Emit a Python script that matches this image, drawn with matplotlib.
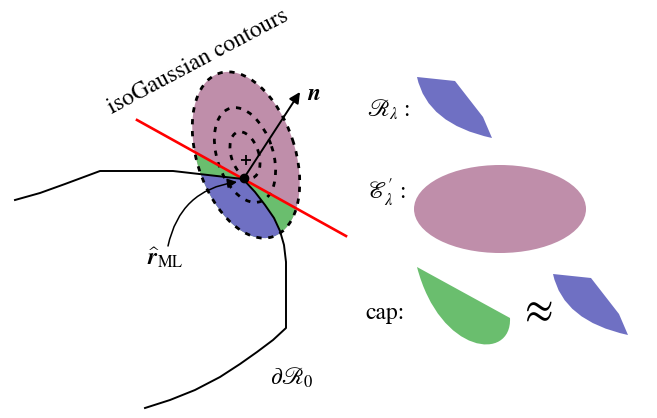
import matplotlib
matplotlib.use("Agg")
import matplotlib.pyplot as plt
from matplotlib.patches import Ellipse, Polygon, FancyArrowPatch, PathPatch
from matplotlib.path import Path

# diagram geometry, pixel coordinates (y grows downward)
ELLIPSE_CENTER = (246, 155)
INNER_CENTER = (245, 155)
CONTOUR_SCALES = [1.0, 0.57, 0.28]
ELLIPSE_SEMI_AXES = (86, 49)
ELLIPSE_ANGLE = 71.8

RED_LINE = [(137, 120), (346, 236)]
R_ML = (244, 178)
NORMAL_TIP = (300, 92)
MEAN_MARK = (246, 160)

BOUNDARY_X = [15, 40, 65, 100, 173, 243, 255, 265, 274, 280, 284, 286, 286,
              273, 257, 240, 220, 195, 170, 145]
BOUNDARY_Y = [200, 193, 184, 171, 171, 179, 192, 205, 218, 231, 245, 262, 328,
              340, 352, 364, 377, 390, 400, 408]

# R_lambda piece: straight edges then one quadratic arc back to start
REGION_EDGE = [(417, 77), (455, 81), (483, 117), (492, 138)]
REGION_ARC_CTRL = [(427, 124)]
COPY_OFFSET = (136, 197)

# cap piece: straight chord then one cubic arc back to start
CAP_EDGE = [(417, 267), (510, 318)]
CAP_ARC_CTRL = [(512, 362), (440, 355)]

ELLIPSE_RIGHT_CENTER = (500, 209)
ELLIPSE_RIGHT_SIZE = (172, 88)

PINK = "#bf8eaa"
BLUE = "#6f70c3"
GREEN = "#6abe6e"

plt.rcParams["mathtext.fontset"] = "stix"
plt.rcParams["font.family"] = "STIXGeneral"


def piece(edge, ctrl, offset=(0, 0)):
    dx, dy = offset
    verts = [(x + dx, y + dy) for x, y in edge]
    codes = [Path.MOVETO] + [Path.LINETO] * (len(edge) - 1)
    arc_code = Path.CURVE3 if len(ctrl) == 1 else Path.CURVE4
    for x, y in ctrl + [edge[0]]:
        verts.append((x + dx, y + dy))
        codes.append(arc_code)
    verts.append(verts[0])
    codes.append(Path.CLOSEPOLY)
    return Path(verts, codes)


fig = plt.figure(figsize=(6.57, 4.18), dpi=100)
ax = fig.add_axes([0, 0, 1, 1])
ax.set_xlim(0, 657)
ax.set_ylim(418, 0)
ax.axis("off")

a, b = ELLIPSE_SEMI_AXES
outer = Ellipse(ELLIPSE_CENTER, 2 * a, 2 * b, angle=ELLIPSE_ANGLE,
                facecolor=PINK, edgecolor="none", zorder=1)
ax.add_patch(outer)

# half plane below the red line, clipped to the ellipse
(x1, y1), (x2, y2) = RED_LINE
slope = (y2 - y1) / (x2 - x1)
below = Polygon([(0, y1 - x1 * slope), (657, y1 + (657 - x1) * slope), (657, 418), (0, 418)],
                closed=True, facecolor=GREEN, edgecolor="none", zorder=2)
ax.add_patch(below)
below.set_clip_path(outer)

# interior of R0, clipped to the ellipse
r0_pts = list(zip(BOUNDARY_X, BOUNDARY_Y)) + [(0, 418), (0, 200)]
r0 = Polygon(r0_pts, closed=True, facecolor=BLUE, edgecolor="none", zorder=3)
ax.add_patch(r0)
r0.set_clip_path(outer)

# dashed iso-contours
for s in CONTOUR_SCALES:
    c = ELLIPSE_CENTER if s == 1.0 else INNER_CENTER
    ax.add_patch(Ellipse(c, 2 * a * s, 2 * b * s, angle=ELLIPSE_ANGLE,
                         facecolor="none", edgecolor="black", lw=2.0,
                         linestyle=(0, (1.9, 2.4)), zorder=5))

ax.plot([x1, x2], [y1, y2], color="red", lw=1.9, zorder=6)
ax.plot(BOUNDARY_X, BOUNDARY_Y, color="black", lw=1.4, zorder=6,
        solid_joinstyle="round")
ax.plot(*MEAN_MARK, marker="+", color="black", ms=6.5, mew=1.3, zorder=7)
ax.plot(*R_ML, marker="o", color="black", ms=6, zorder=8)

ax.add_patch(FancyArrowPatch(R_ML, NORMAL_TIP, arrowstyle="-|>", mutation_scale=16,
                             color="black", lw=1.4, shrinkA=0, shrinkB=0, zorder=8))
ax.add_patch(FancyArrowPatch((168, 246), (237, 182), arrowstyle="-|>", mutation_scale=14,
                             connectionstyle="arc3,rad=-0.35", color="black", lw=1.1,
                             shrinkA=0, shrinkB=0, zorder=8))

# right-hand shapes
ax.add_patch(PathPatch(piece(REGION_EDGE, REGION_ARC_CTRL), facecolor=BLUE, edgecolor="none"))
ax.add_patch(Ellipse(ELLIPSE_RIGHT_CENTER, *ELLIPSE_RIGHT_SIZE, facecolor=PINK,
                     edgecolor="none"))
ax.add_patch(PathPatch(piece(CAP_EDGE, CAP_ARC_CTRL), facecolor=GREEN, edgecolor="none"))
ax.add_patch(PathPatch(piece(REGION_EDGE, REGION_ARC_CTRL, COPY_OFFSET),
                       facecolor=BLUE, edgecolor="none"))

# labels
fs = 17
ax.text(198, 62, "isoGaussian contours", fontsize=fs, rotation=28,
        rotation_mode="anchor", ha="center", va="center")
ax.text(307, 94, r"$\mathbfit{n}$", fontsize=fs, ha="left", va="center")
ax.text(367, 110, r"$\mathscr{R}_\lambda$ :", fontsize=fs, ha="left", va="center")
ax.text(367, 193, r"$\mathscr{E}^{\prime}_{\lambda}$ :", fontsize=fs, ha="left", va="center")
ax.text(365, 313, "cap:", fontsize=fs, ha="left", va="center")
ax.text(535, 312, r"$\approx$", fontsize=30, ha="center", va="center")
ax.text(270, 378, r"$\partial\mathscr{R}_0$", fontsize=fs, ha="left", va="center")
ax.text(147, 258, r"$\widehat{\mathbfit{r}}_{\mathrm{ML}}$", fontsize=fs,
        ha="left", va="center")

fig.savefig("out.png", dpi=100)
